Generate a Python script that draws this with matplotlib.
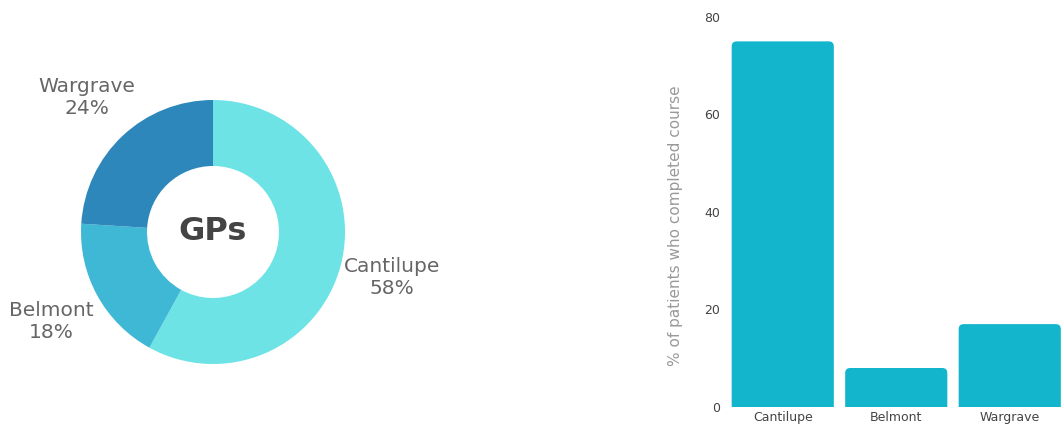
import matplotlib
matplotlib.use("Agg")
from matplotlib import pyplot as plt
from matplotlib.patches import FancyBboxPatch

# donut data
gp_names = ["Cantilupe", "Belmont", "Wargrave"]
gp_share = [58, 18, 24]
gp_colors = ["#6de3e6", "#3fb8d5", "#2d87bb"]

# bar data
bar_names = ["Cantilupe", "Belmont", "Wargrave"]
completed = [75, 8, 17]
bar_color = "#12b5cb"

plt.rcParams['font.family'] = ['DejaVu Sans']

fig = plt.figure(figsize=(10.61, 4.28), dpi=100)

# ---- donut ----
W, H = 1061.0, 428.0
r_px = 132.0
cx, cy = 213.0, 232.0  # centre in px from top-left
ax1 = fig.add_axes([0, 0, 426 / W, 1.0])
labels = ["%s\n%d%%" % (n, v) for n, v in zip(gp_names, gp_share)]
wedges, texts = ax1.pie(gp_share, labels=labels, colors=gp_colors, startangle=90,
                        counterclock=False, labeldistance=1.4,
                        wedgeprops=dict(width=0.5, linewidth=0),
                        textprops=dict(fontsize=14.5, color="#666666"))
for t in texts:
    t.set_horizontalalignment("center")
    t.set_verticalalignment("center")
    t.set_multialignment("center")
ax1.text(0, 0, "GPs", ha="center", va="center", fontsize=23, fontweight="bold",
         color="#444444")
ax1.set_xlim(-cx / r_px, (426 - cx) / r_px)
ax1.set_ylim(-(H - cy) / r_px, cy / r_px)
ax1.set_aspect("auto")
ax1.axis("off")

# ---- bars ----
ax2 = fig.add_axes([726 / W, 21 / H, 340.5 / W, 390 / H])
bars = ax2.bar(range(len(bar_names)), completed, width=0.9, color=bar_color)
x_per_px = 3.0 / 340.5
y_per_px = 80.0 / 390
rad = 5 * x_per_px
for b in bars:
    x0, w, h = b.get_x(), b.get_width(), b.get_height()
    extra = 6 * y_per_px
    p = FancyBboxPatch((x0, -extra), w, h + extra,
                       boxstyle="round,pad=0,rounding_size=%f" % rad,
                       mutation_aspect=y_per_px / x_per_px,
                       facecolor=bar_color, edgecolor="none")
    b.remove()
    ax2.add_patch(p)
ax2.set_xlim(-0.5, 2.5)
ax2.set_ylim(0, 80)
ax2.set_yticks([0, 20, 40, 60, 80])
ax2.set_xticks(range(len(bar_names)))
ax2.set_xticklabels(bar_names)
ax2.tick_params(length=0, labelsize=9, colors="#444444")
ax2.tick_params(axis="y", pad=4)
ax2.tick_params(axis="x", pad=3)
for s in ax2.spines.values():
    s.set_visible(False)
ax2.set_ylabel("% of patients who completed course", fontsize=11, color="#999999")
ax2.yaxis.set_label_coords(-0.125, 0.464)

fig.savefig("out.png", dpi=100)
